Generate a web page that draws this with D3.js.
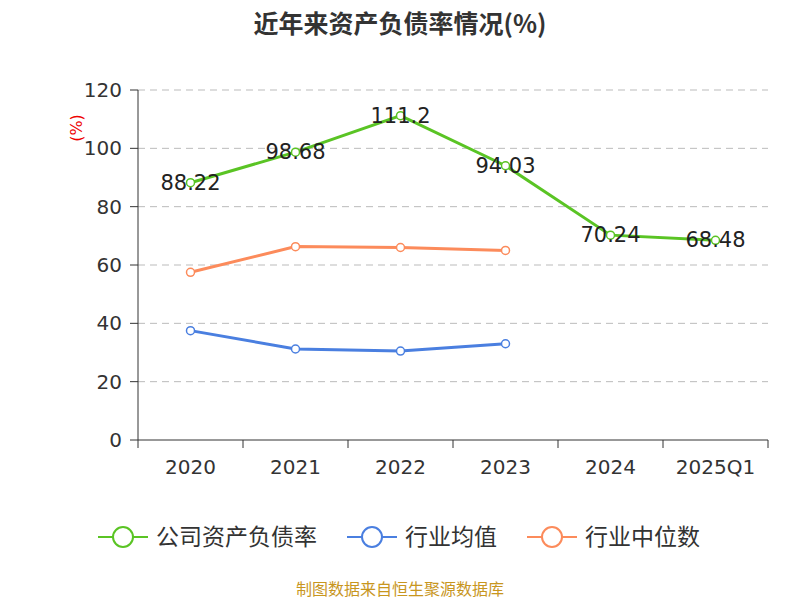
<!DOCTYPE html><html><head><meta charset="utf-8"><script src="https://cdn.jsdelivr.net/npm/d3@7"></script>
<style>body{margin:0;background:#fff}text{font-family:"DejaVu Sans","Noto Sans CJK SC",sans-serif}</style></head><body>
<svg id="c" width="800" height="600"></svg>
<script>
const categories=["2020","2021","2022","2023","2024","2025Q1"];
const company=[88.22,98.68,111.2,94.03,70.24,68.48];
const industryAvg=[37.5,31.2,30.5,33.0];
const industryMedian=[57.5,66.3,66.0,65.0];
const yTicks=[0,20,40,60,80,100,120];
const svg=d3.select("#c");
const x=d3.scaleBand().domain(categories).range([138,768]);
const y=d3.scaleLinear().domain([0,120]).range([440,90]);
svg.append("text").attr("x",400).attr("y",33).attr("text-anchor","middle").attr("font-size",25).attr("font-weight","bold").attr("fill","#333").style("font-family","'Noto Sans CJK SC',sans-serif").text("近年来资产负债率情况(%)");
yTicks.forEach(t=>{ if(t>0) svg.append("line").attr("x1",138).attr("x2",768).attr("y1",y(t)).attr("y2",y(t)).attr("stroke","#bbb").attr("stroke-dasharray","7,5");
 svg.append("text").attr("x",122).attr("y",y(t)+7).attr("text-anchor","end").attr("font-size",20).attr("fill","#333").text(t);
 svg.append("line").attr("x1",130).attr("x2",138).attr("y1",y(t)).attr("y2",y(t)).attr("stroke","#333");});
svg.append("line").attr("x1",138).attr("x2",138).attr("y1",90).attr("y2",440).attr("stroke","#333");
svg.append("line").attr("x1",138).attr("x2",768).attr("y1",440).attr("y2",440).attr("stroke","#333");
categories.forEach((c,i)=>{svg.append("line").attr("x1",x(c)).attr("x2",x(c)).attr("y1",440).attr("y2",448).attr("stroke","#333");
 svg.append("text").attr("x",x(c)+x.bandwidth()/2).attr("y",474).attr("text-anchor","middle").attr("font-size",20).attr("fill","#333").text(c);});
svg.append("line").attr("x1",768).attr("x2",768).attr("y1",440).attr("y2",448).attr("stroke","#333");
svg.append("text").attr("transform","translate(82,128) rotate(-90)").attr("text-anchor","middle").attr("font-size",16).attr("fill","#e00").text("(%)");
const cx=i=>x(categories[i])+x.bandwidth()/2;
function series(d,col){const l=d3.line().x((v,i)=>cx(i)).y(v=>y(v));
 svg.append("path").attr("d",l(d)).attr("fill","none").attr("stroke",col).attr("stroke-width",3);
 d.forEach((v,i)=>svg.append("circle").attr("cx",cx(i)).attr("cy",y(v)).attr("r",4).attr("fill","#fff").attr("stroke",col).attr("stroke-width",1.5));}
series(industryMedian,"#fc8b5b");series(industryAvg,"#4a7fe0");series(company,"#5ac424");
company.forEach((v,i)=>svg.append("text").attr("x",cx(i)).attr("y",y(v)+7).attr("text-anchor","middle").attr("font-size",21).attr("fill","#222").text(v));
const leg=[["公司资产负债率","#5ac424",98],["行业均值","#4a7fe0",347],["行业中位数","#fc8b5b",527]];
leg.forEach(([t,c,lx])=>{svg.append("line").attr("x1",lx).attr("x2",lx+50).attr("y1",537).attr("y2",537).attr("stroke",c).attr("stroke-width",2);
 svg.append("circle").attr("cx",lx+25).attr("cy",537).attr("r",10).attr("fill","#fff").attr("stroke",c).attr("stroke-width",2);
 svg.append("text").attr("x",lx+58).attr("y",545).attr("font-size",23).attr("fill","#333").style("font-family","'Noto Sans CJK SC',sans-serif").text(t);});
svg.append("text").attr("x",400).attr("y",595).attr("text-anchor","middle").attr("font-size",16).attr("fill","#c8961e").style("font-family","'Noto Sans CJK SC',sans-serif").text("制图数据来自恒生聚源数据库");
</script></body></html>
